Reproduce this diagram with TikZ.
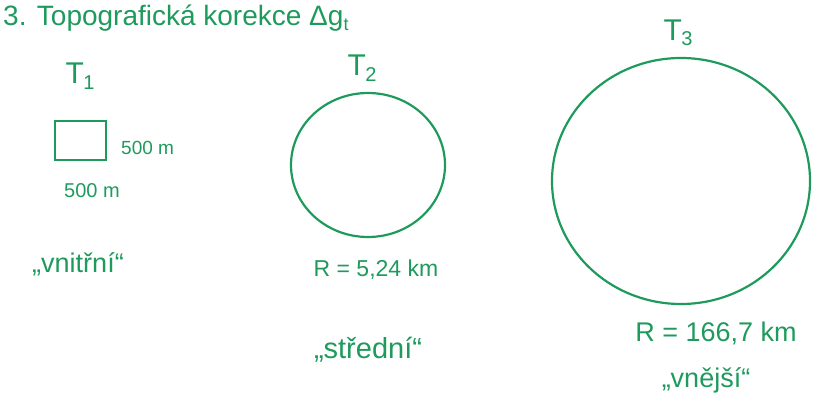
\documentclass[tikz,border=0pt]{standalone}
\usepackage{fontspec}
\setmainfont{Liberation Sans}
\definecolor{pen}{HTML}{1E9A5C}
\newcommand{\Tsub}[1]{T\kern-0.5pt\raisebox{-0.35ex}{\fontsize{20}{20}\selectfont #1}}
\begin{document}
\begin{tikzpicture}[x=1pt,y=-1pt,
  shape line/.style={draw=pen,line width=2.2pt},
  lbl/.style={text=pen,font=\fontsize{22}{24}\selectfont,inner sep=1pt},
  word/.style={text=pen,font=\fontsize{27}{29}\selectfont,inner sep=1pt},
  bigl/.style={text=pen,font=\fontsize{30}{32}\selectfont,inner sep=1pt}]
\useasboundingbox (0,0) rectangle (816,406);
% heading
\node[text=pen,anchor=base west,font=\fontsize{28}{30}\selectfont,inner sep=1pt] (head) at (2,26) {3. Topografická korekce Δg\raisebox{-0.3ex}{\fontsize{18}{18}\selectfont t}};
% T1
\node[bigl] (t1) at (80,76) {\Tsub{1}};
\draw[shape line] (55,121) rectangle (106,160);
\node[lbl,anchor=west,font=\fontsize{19}{21}\selectfont] (s1) at (120,148) {500 m};
\node[lbl,font=\fontsize{20}{22}\selectfont] (s2) at (92,191) {500 m};
\node[word] (n1) at (78,264) {„vnitřní“};
% T2
\node[bigl] (t2) at (362,68) {\Tsub{2}};
\draw[shape line] (368,165) ellipse [x radius=77,y radius=72];
\node[lbl,font=\fontsize{23}{25}\selectfont] (r2) at (376,270) {R = 5,24 km};
\node[word,font=\fontsize{29}{31}\selectfont] (n2) at (368,350) {„střední“};
% T3
\node[bigl] (t3) at (678,33) {\Tsub{3}};
\draw[shape line] (681,181) ellipse [x radius=129,y radius=123];
\node[lbl,font=\fontsize{27}{29}\selectfont] (r3) at (716,333) {R = 166,7 km};
\node[word] (n3) at (706,380) {„vnější“};
\end{tikzpicture}
\end{document}
